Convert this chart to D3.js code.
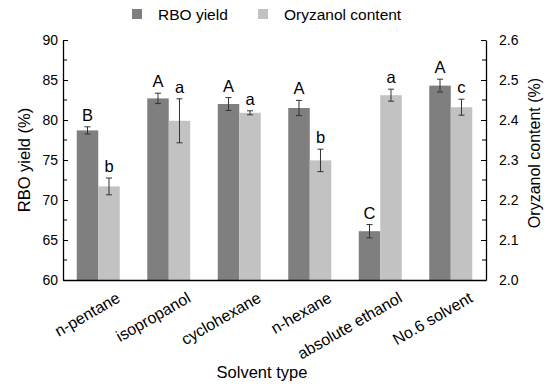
<!DOCTYPE html>
<html>
<head>
<meta charset="utf-8">
<script src="https://cdn.jsdelivr.net/npm/d3@7"></script>
<style>
  body { margin: 0; background: #fff; }
  text { font-family: "Liberation Sans", Arial, sans-serif; fill: #000; }
</style>
</head>
<body>
<script>
// data
var solvents = ["n-pentane", "isopropanol", "cyclohexane", "n-hexane", "absolute ethanol", "No.6 solvent"];
var rboYield = [78.7, 82.7, 82.0, 81.5, 66.1, 84.3];
var rboErr = [0.45, 0.65, 0.8, 0.95, 0.83, 0.8];
var rboLetters = ["B", "A", "A", "A", "C", "A"];
var oryzanol = [2.234, 2.398, 2.418, 2.299, 2.462, 2.432];
var oryErr = [0.021, 0.055, 0.005, 0.028, 0.015, 0.02];
var oryLetters = ["b", "a", "a", "b", "a", "c"];
var leftTicks = [60, 65, 70, 75, 80, 85, 90];
var rightTicks = [2.0, 2.1, 2.2, 2.3, 2.4, 2.5, 2.6];

var svgWidth = 550;
var svgHeight = 390;
var plot = { left: 63, right: 486, top: 40, bottom: 280 };

var darkColor = "#7f7f7f";
var lightColor = "#c2c2c2";

var svg = d3.select("body")
  .append("svg")
  .attr("width", svgWidth)
  .attr("height", svgHeight);

var x0 = d3.scaleBand()
  .domain(solvents)
  .range([plot.left, plot.right])
  .padding(0);

var x1 = d3.scaleBand()
  .domain(["rbo", "ory"])
  .range([0, x0.bandwidth()])
  .paddingInner(0)
  .paddingOuter(0.64);

var yLeft = d3.scaleLinear().domain([60, 90]).range([plot.bottom, plot.top]);
var yRight = d3.scaleLinear().domain([2.0, 2.6]).range([plot.bottom, plot.top]);

// build rows for the bars
var rows = solvents.map(function(s, i) {
  return [
    { solvent: s, key: "rbo", value: rboYield[i], err: rboErr[i], letter: rboLetters[i], y: yLeft, color: darkColor },
    { solvent: s, key: "ory", value: oryzanol[i], err: oryErr[i], letter: oryLetters[i], y: yRight, color: lightColor }
  ];
});
var bars = d3.merge(rows);

var barGroup = svg.append("g");

barGroup.selectAll("rect")
  .data(bars)
  .enter()
  .append("rect")
  .attr("x", d => x0(d.solvent) + x1(d.key))
  .attr("width", x1.bandwidth())
  .attr("y", d => d.y(d.value))
  .attr("height", d => d.y(d.y.domain()[0]) - d.y(d.value))
  .attr("fill", d => d.color);

// error bars
var errGroup = barGroup.selectAll("g.err")
  .data(bars)
  .enter()
  .append("g")
  .attr("class", "err")
  .attr("stroke", "#333")
  .attr("stroke-width", 1);

errGroup.append("line")
  .attr("x1", d => x0(d.solvent) + x1(d.key) + x1.bandwidth() / 2)
  .attr("x2", d => x0(d.solvent) + x1(d.key) + x1.bandwidth() / 2)
  .attr("y1", d => d.y(d.value + d.err))
  .attr("y2", d => d.y(d.value - d.err));

errGroup.selectAll("line.cap")
  .data(d => [{ d: d, v: d.value + d.err }, { d: d, v: d.value - d.err }])
  .enter()
  .append("line")
  .attr("class", "cap")
  .attr("x1", c => x0(c.d.solvent) + x1(c.d.key) + x1.bandwidth() / 2 - 3)
  .attr("x2", c => x0(c.d.solvent) + x1(c.d.key) + x1.bandwidth() / 2 + 3)
  .attr("y1", c => c.d.y(c.v))
  .attr("y2", c => c.d.y(c.v));

// significance letters
barGroup.selectAll("text.letter")
  .data(bars)
  .enter()
  .append("text")
  .attr("class", "letter")
  .attr("x", d => x0(d.solvent) + x1(d.key) + x1.bandwidth() / 2)
  .attr("y", d => d.y(d.value + d.err) - 6)
  .attr("text-anchor", "middle")
  .style("font-size", "16.5px")
  .text(d => d.letter);

// axes
var leftAxis = d3.axisLeft(yLeft).tickValues(leftTicks).tickSizeInner(-5).tickSizeOuter(0).tickPadding(5);
var rightAxis = d3.axisRight(yRight).tickValues(rightTicks).tickSizeInner(-5).tickSizeOuter(0).tickPadding(13)
  .tickFormat(d3.format(".1f"));

var gl = svg.append("g")
  .attr("transform", `translate(${plot.left}, 0)`)
  .call(leftAxis);

var gr = svg.append("g")
  .attr("transform", `translate(${plot.right}, 0)`)
  .call(rightAxis);

// minor ticks
var minorLeft = d3.range(62.5, 90, 5);
gl.selectAll("line.minor")
  .data(minorLeft)
  .enter()
  .append("line")
  .attr("x1", 0).attr("x2", 4)
  .attr("y1", d => yLeft(d)).attr("y2", d => yLeft(d))
  .attr("stroke", "#000");

var minorRight = d3.range(2.05, 2.6, 0.1);
gr.selectAll("line.minor")
  .data(minorRight)
  .enter()
  .append("line")
  .attr("x1", 0).attr("x2", -4)
  .attr("y1", d => yRight(d)).attr("y2", d => yRight(d))
  .attr("stroke", "#000");

[gl, gr].forEach(function(g) {
  g.selectAll("text").style("font-size", "14px").attr("fill", "#000");
  g.selectAll("path, line").attr("stroke", "#000");
  g.select("path.domain").attr("stroke-width", 1.3);
});

// x axis
var bottomAxis = d3.axisBottom(x0).tickSize(0).tickPadding(0);
var gx = svg.append("g")
  .attr("transform", `translate(0, ${plot.bottom})`)
  .call(bottomAxis);
gx.select("path.domain").attr("stroke", "#000").attr("stroke-width", 1.5);
gx.selectAll("text")
  .style("font-size", "16px")
  .attr("fill", "#000")
  .attr("text-anchor", "end")
  .attr("dy", null)
  .attr("transform", "translate(23, 21) rotate(-30)");

// axis titles
svg.append("text")
  .attr("transform", `translate(30, ${(plot.top + plot.bottom) / 2}) rotate(-90)`)
  .attr("text-anchor", "middle")
  .style("font-size", "16.5px")
  .text("RBO yield (%)");

svg.append("text")
  .attr("transform", "translate(540, 153) rotate(-90)")
  .attr("text-anchor", "middle")
  .style("font-size", "16px")
  .text("Oryzanol content (%)");

svg.append("text")
  .attr("x", 262)
  .attr("y", 378)
  .attr("text-anchor", "middle")
  .style("font-size", "16.5px")
  .text("Solvent type");

// legend
var legendItems = [
  { label: "RBO yield", color: darkColor, x: 132 },
  { label: "Oryzanol content", color: lightColor, x: 258 }
];
var legend = svg.selectAll("g.legend")
  .data(legendItems)
  .enter()
  .append("g")
  .attr("class", "legend")
  .attr("transform", d => `translate(${d.x}, 9)`);
legend.append("rect")
  .attr("width", 10).attr("height", 10)
  .attr("fill", d => d.color);
legend.append("text")
  .attr("x", 26)
  .attr("y", 10.5)
  .style("font-size", "15.5px")
  .text(d => d.label);
</script>
</body>
</html>
